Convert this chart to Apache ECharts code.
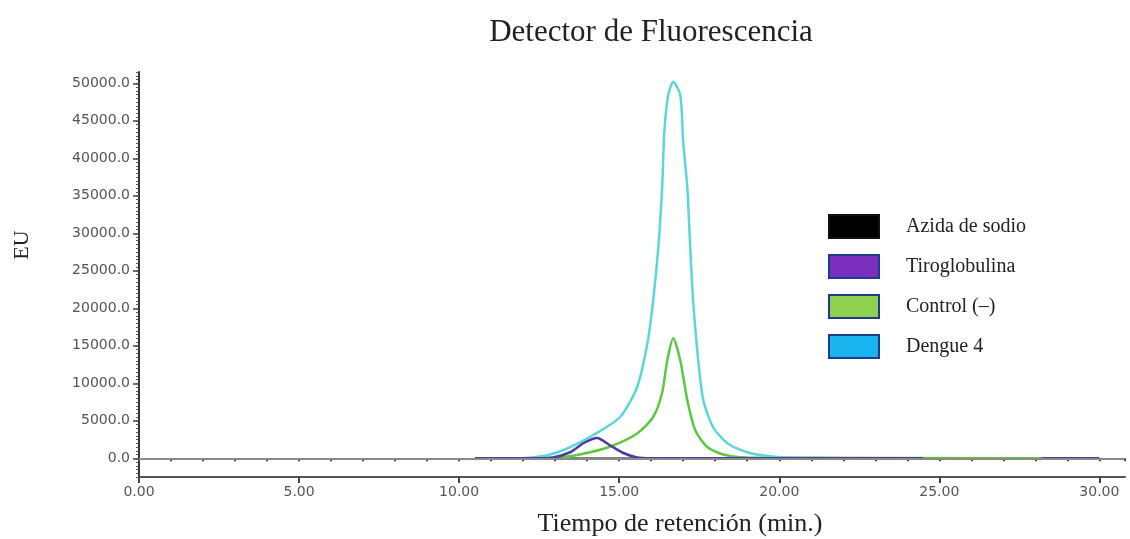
<!DOCTYPE html>
<html>
<head>
<meta charset="utf-8">
<script src="https://cdn.jsdelivr.net/npm/echarts@6/dist/echarts.min.js"></script>
<style>
  html, body { margin: 0; padding: 0; background: #fff; }
  #chart { width: 1130px; height: 539px; }
</style>
</head>
<body>
<div id="chart"></div>
<script>
const seriesNames = ["Azida de sodio", "Tiroglobulina", "Control (\u2013)", "Dengue 4"];

const azidaTime = [10.5, 30.0];
const azidaEU = [0, 0];

const tiroTime = [10.5, 12.5, 12.94, 13.47, 13.88, 14.31, 14.72, 15.13, 15.56, 16.0, 24.5, 26.35, 28.2, 30.0];
const tiroEU = [0, 0, 100, 800, 2000, 2700, 1700, 700, 100, 0, 0, null, 0, 0];

const controlTime = [12.0, 13.16, 14.09, 14.81, 15.56, 16.06, 16.34, 16.5, 16.69, 16.91, 17.13, 17.38, 17.75, 18.25, 19.0, 28.2];
const controlEU = [0, 100, 800, 1700, 3300, 5500, 8700, 13000, 16000, 13000, 7700, 3700, 1500, 500, 100, 0];

const dengueTime = [12.0, 12.75, 13.38, 14.19, 15.03, 15.56, 15.88, 16.06, 16.22, 16.34, 16.41, 16.53, 16.69, 16.91, 17.0, 17.13, 17.22, 17.31, 17.47, 17.63, 17.94, 18.38, 19.0, 19.63, 20.3, 22.2];
const dengueEU = [0, 400, 1300, 3100, 5500, 9500, 15300, 21000, 28000, 36000, 43500, 48400, 50200, 48400, 42100, 36000, 28000, 21000, 13000, 7700, 4100, 2000, 800, 300, 100, 0];

const yTickLabels = [0, 5000, 10000, 15000, 20000, 25000, 30000, 35000, 40000, 45000, 50000];
const xTickLabels = [0, 5, 10, 15, 20, 25, 30];

const pairs = (t, v) => t.map((x, i) => [x, v[i] === null ? "-" : v[i]]);

const chart = echarts.init(document.getElementById("chart"));

const yMin = -2500, yMax = 51500, xMin = 0, xMax = 30.8;
const axisFont = { fontFamily: "DejaVu Sans", fontSize: 14, color: "#555" };
const serif = "Liberation Serif";

chart.setOption({
  backgroundColor: "#fff",
  animation: false,
  title: {
    text: "Detector de Fluorescencia",
    left: 646, top: 12, textAlign: "center",
    textStyle: { fontFamily: serif, fontSize: 31, fontWeight: "normal", color: "#222" },
  },
  graphic: [
    {
      type: "text", x: 22, y: 245, rotation: Math.PI / 2,
      style: { text: "EU", font: "22px 'Liberation Serif'", fill: "#222", align: "center", verticalAlign: "middle" },
    },
  ],
  legend: {
    orient: "vertical",
    left: 828, top: 214, padding: 0,
    itemWidth: 50, itemHeight: 23, itemGap: 15,
    icon: "rect",
    selectedMode: false,
    textStyle: { fontFamily: serif, fontSize: 20, color: "#222", padding: [0, 0, 0, 22] },
    data: [
      { name: seriesNames[0], itemStyle: { color: "#000", borderColor: "#111", borderWidth: 2 } },
      { name: seriesNames[1], itemStyle: { color: "#7b2fbe", borderColor: "#1e3c8c", borderWidth: 2 } },
      { name: seriesNames[2], itemStyle: { color: "#8fd14f", borderColor: "#1e3c8c", borderWidth: 2 } },
      { name: seriesNames[3], itemStyle: { color: "#19b3ee", borderColor: "#1e3c8c", borderWidth: 2 } },
    ],
  },
  grid: { left: 139, right: 5, top: 72, bottom: 62, outerBoundsMode: "none" },
  xAxis: [
    {
      type: "value", min: xMin, max: xMax,
      name: "Tiempo de retenci\u00f3n (min.)",
      nameLocation: "middle", nameGap: 34,
      nameTextStyle: { fontFamily: serif, fontSize: 26, color: "#222", padding: [0, 0, 0, 96] },
      axisLine: { show: true, onZero: false, lineStyle: { color: "#555", width: 2 } },
      axisTick: { show: true, customValues: xTickLabels, length: 6, lineStyle: { color: "#444", width: 2 } },
      axisLabel: { customValues: xTickLabels, formatter: (v) => v.toFixed(2), margin: 8, ...axisFont },
      splitLine: { show: false },
    },
    {
      type: "value", min: xMin, max: xMax, interval: 1, position: "bottom",
      axisLine: { show: false },
      axisTick: { show: true, length: 3, lineStyle: { color: "#444", width: 2 } },
      axisLabel: { show: false },
      splitLine: { show: false },
    },
  ],
  yAxis: [
    {
      type: "value", min: yMin, max: yMax,
      axisLine: { show: true, onZero: false, lineStyle: { color: "#333", width: 2 } },
      axisTick: { show: true, customValues: yTickLabels, length: 6, lineStyle: { color: "#444", width: 1.5 } },
      axisLabel: { customValues: yTickLabels, formatter: (v) => v.toFixed(1), margin: 9, ...axisFont },
      splitLine: { show: false },
    },
    {
      type: "value", min: yMin, max: yMax, interval: 500, position: "left",
      axisLine: { show: false },
      axisTick: { show: true, length: 3, lineStyle: { color: "#555", width: 1 } },
      axisLabel: { show: false },
      splitLine: { show: false },
    },
  ],
  series: [
    {
      name: seriesNames[0], type: "line", showSymbol: false, z: 0,
      data: pairs(azidaTime, azidaEU),
      lineStyle: { color: "#000", width: 1.5 }, itemStyle: { color: "#000" },
      markLine: {
        silent: true, symbol: "none", label: { show: false },
        lineStyle: { color: "#8a8a8a", width: 2, type: "solid" },
        data: [{ yAxis: 0 }],
      },
    },
    {
      name: seriesNames[2], type: "line", showSymbol: false, smooth: 0.25, z: 2,
      data: pairs(controlTime, controlEU),
      lineStyle: { color: "#5cc93c", width: 2.5 }, itemStyle: { color: "#8fd14f" },
    },
    {
      name: seriesNames[3], type: "line", showSymbol: false, smooth: 0.25, z: 3,
      data: pairs(dengueTime, dengueEU),
      lineStyle: { color: "#5ad7da", width: 2.5 }, itemStyle: { color: "#19b3ee" },
    },
    {
      name: seriesNames[1], type: "line", showSymbol: false, smooth: 0.25, z: 4,
      connectNulls: false,
      data: pairs(tiroTime, tiroEU),
      lineStyle: { color: "#4a3aa8", width: 2.5 }, itemStyle: { color: "#7b2fbe" },
    },
  ],
});
</script>
</body>
</html>
